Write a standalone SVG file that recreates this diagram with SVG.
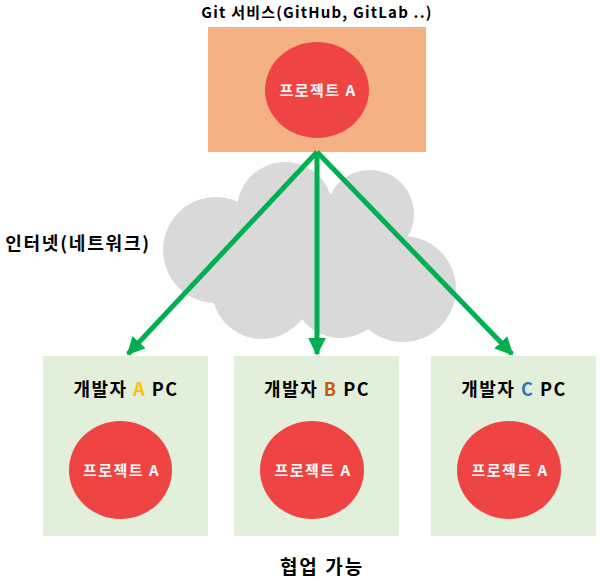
<svg xmlns="http://www.w3.org/2000/svg" width="601" height="581" viewBox="0 0 601 581">
<defs>
<style>
text{font-family:"Noto Sans CJK KR","Noto Sans",sans-serif;font-weight:bold;text-anchor:middle}
.lbl{font-size:18px;fill:#000;letter-spacing:1.5px}
.proj{font-size:15px;fill:#fff;letter-spacing:1.5px}
.red{fill:#ee4444}
.pc{fill:#e2efda}
.arr{stroke:#00b050;stroke-width:5;fill:none}
</style>
<marker id="ah" viewBox="0 0 10 10" refX="9" refY="5" markerWidth="3.6" markerHeight="3.6" orient="auto" markerUnits="strokeWidth">
<path d="M0,0 L10,5 L0,10 Z" fill="#00b050"/>
</marker>
</defs>
<rect width="601" height="581" fill="#fff"/>
<g id="cloud" fill="#d9d9d9">
<circle cx="216" cy="250" r="53"/>
<circle cx="285" cy="210" r="48"/>
<circle cx="370" cy="214" r="44"/>
<circle cx="403" cy="289" r="53"/>
<circle cx="262" cy="289" r="50"/>
<circle cx="340" cy="290" r="48"/>
<circle cx="310" cy="260" r="60"/>
</g>
<text x="78" y="250" class="lbl" style="letter-spacing:1.8px">인터넷(네트워크)</text>
<g id="git-service">
<text x="317" y="18" class="lbl" style="font-size:15px;letter-spacing:1.2px">Git 서비스(GitHub, GitLab ..)</text>
<rect x="208" y="27" width="218" height="125" fill="#f4b183"/>
<ellipse cx="317" cy="90" rx="52" ry="48" class="red"/>
<text x="318" y="96" class="proj">프로젝트 A</text>
</g>
<g id="pc-a">
<rect x="43" y="356" width="165" height="180" class="pc"/>
<text x="126" y="396" class="lbl">개발자 <tspan fill="#ffc000">A</tspan> PC</text>
<ellipse cx="120.5" cy="470" rx="51.5" ry="49" class="red"/>
<text x="121.5" y="476" class="proj">프로젝트 A</text>
</g>
<g id="pc-b">
<rect x="234" y="356" width="165" height="180" class="pc"/>
<text x="317" y="396" class="lbl">개발자 <tspan fill="#c55a11">B</tspan> PC</text>
<ellipse cx="312" cy="470" rx="52" ry="49" class="red"/>
<text x="313" y="476" class="proj">프로젝트 A</text>
</g>
<g id="pc-c">
<rect x="431" y="356" width="165" height="180" class="pc"/>
<text x="514" y="396" class="lbl">개발자 <tspan fill="#2e75b6">C</tspan> PC</text>
<ellipse cx="509" cy="470" rx="52" ry="49" class="red"/>
<text x="510" y="476" class="proj">프로젝트 A</text>
</g>
<g id="connectors">
<line x1="317" y1="152" x2="128" y2="354" class="arr" marker-end="url(#ah)"/>
<line x1="317" y1="152" x2="317" y2="354" class="arr" marker-end="url(#ah)"/>
<line x1="317" y1="152" x2="512" y2="354" class="arr" marker-end="url(#ah)"/>
</g>
<text x="322" y="574" class="lbl" style="font-size:19px;letter-spacing:2px">협업 가능</text>
</svg>
